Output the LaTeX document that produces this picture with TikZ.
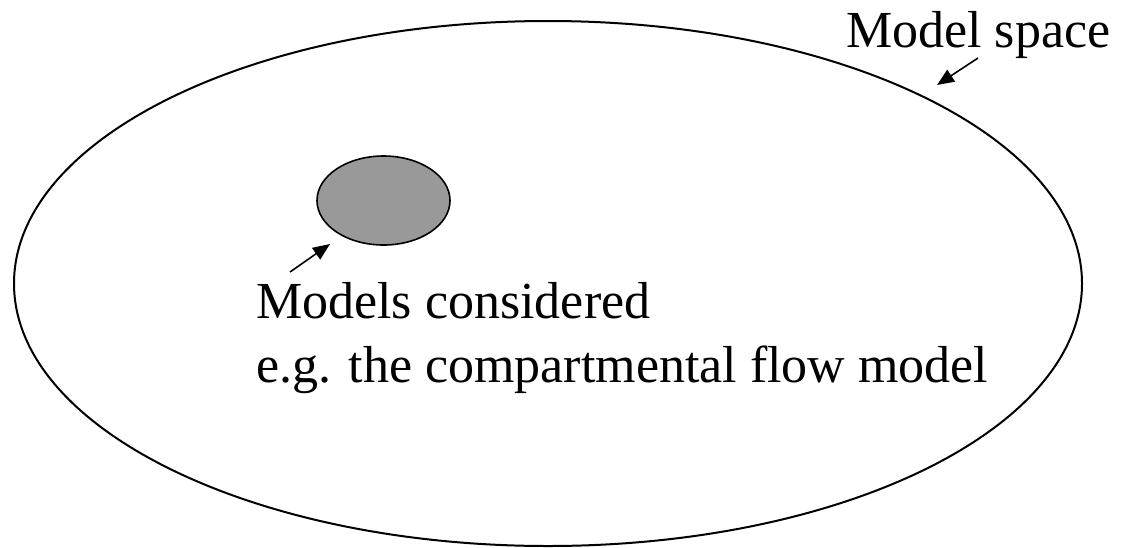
\documentclass[tikz,border=0pt]{standalone}
\usepackage{fontspec}
\setmainfont{Liberation Serif}
\usetikzlibrary{shapes.geometric,arrows.meta}
\tikzset{
  region/.style={ellipse, draw=black, inner sep=0pt},
  label/.style={inner sep=0pt, font=\fontsize{52}{62}\selectfont},
  pointer/.style={draw=black, line width=1.6pt, -{Triangle[length=17pt,width=14pt]}},
}
\begin{document}
\begin{tikzpicture}[x=1pt,y=-1pt]
\useasboundingbox (0,0) rectangle (1121,547);
\node[region, line width=2pt, minimum width=1068pt, minimum height=525pt] (space) at (548,283.5) {};
\node[region, line width=1.6pt, fill={rgb,255:red,153;green,153;blue,153}, minimum width=133pt, minimum height=89pt] (considered) at (383.5,200.5) {};
\node[label, anchor=base west] (spacelabel) at (846,47) {Model space};
\node[label, anchor=base west, align=left] (consideredlabel) at (256,318) {Models considered};
\node[label, anchor=base west] (examplelabel) at (256,382) {e.g. the compartmental flow model};
\coordinate (p1) at (978,58);
\coordinate (p1tip) at (937,85);
\coordinate (p2) at (290,272);
\coordinate (p2tip) at (330,244);
\draw[pointer] (p1) -- (p1tip);
\draw[pointer] (p2) -- (p2tip);
\end{tikzpicture}
\end{document}
